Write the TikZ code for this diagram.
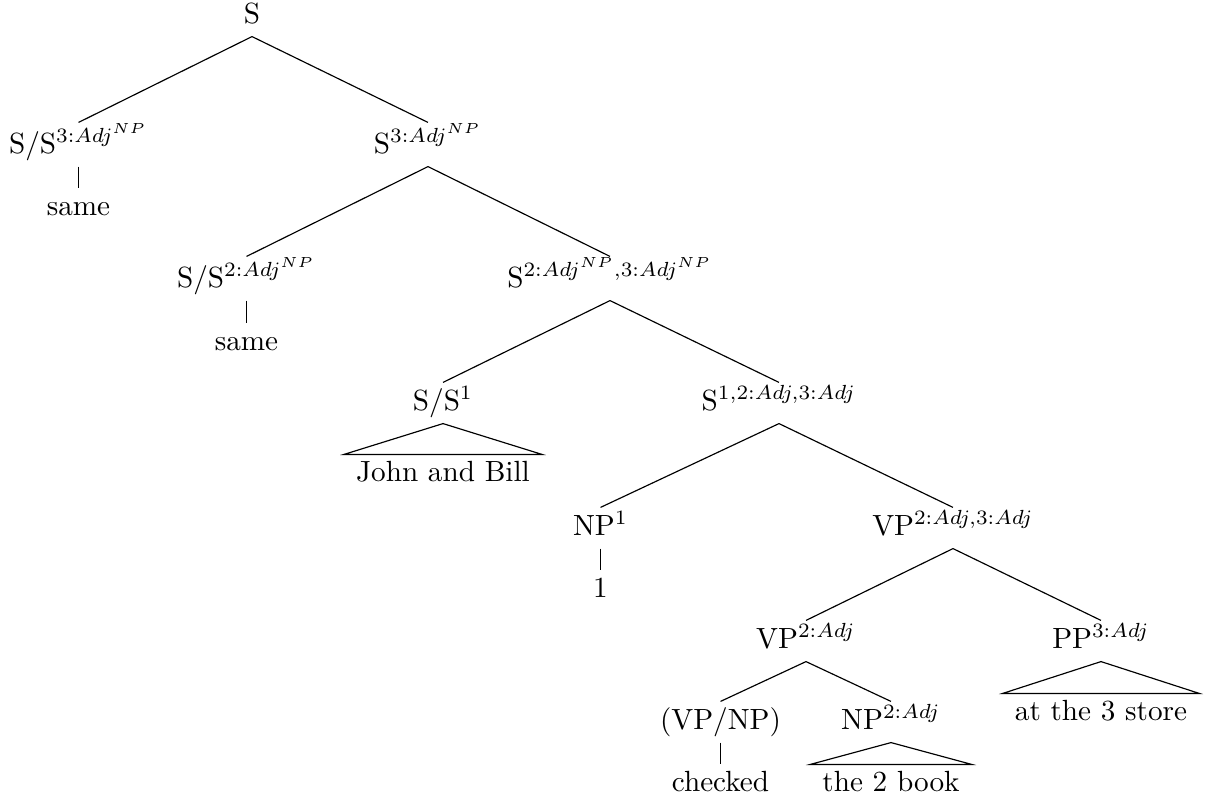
\documentclass[tikz,border=0pt]{standalone}
\begin{document}
\begin{tikzpicture}[x=0.3425pt,y=-0.3425pt,
  inode/.style={anchor=base,inner sep=0pt,text height=9.25pt,text depth=4.45pt},
  inodeh/.style={inode,text height=10.27pt},
  leaf/.style={anchor=base,inner ysep=0pt,inner xsep=4pt,text height=8.9pt,text depth=0pt},
  branch/.style={draw,line width=0.4pt}]
\useasboundingbox (0,0) rectangle (1213,802);
% nodes
\node[inode]  (s)     at (252,23)  {S};
\node[inodeh] (ss3)   at (78.5,153)  {S/S$^{3:Adj^{NP}}$};
\node[leaf]   (same1) at (78.5,215)  {same};
\node[inodeh] (s3)    at (428,153) {S$^{3:Adj^{NP}}$};
\node[inodeh] (ss2)   at (246.5,287) {S/S$^{2:Adj^{NP}}$};
\node[leaf]   (same2) at (246.5,350) {same};
\node[inodeh] (s23)   at (610,287) {S$^{2:Adj^{NP},3:Adj^{NP}}$};
\node[inode]  (ss1)   at (443,410) {S/S$^{1}$};
\node[leaf]   (jb)    at (443,481) {John and Bill};
\node[inode]  (s123)  at (779,410) {S$^{1,2:Adj,3:Adj}$};
\node[inode]  (np1)   at (600.5,535) {NP$^{1}$};
\node[leaf]   (one)   at (600.5,597) {1};
\node[inode]  (vp23)  at (953,535) {VP$^{2:Adj,3:Adj}$};
\node[inode]  (vp2)   at (806,648) {VP$^{2:Adj}$};
\node[inode]  (pp3)   at (1101,648) {PP$^{3:Adj}$};
\node[leaf]   (store) at (1101,720) {at the 3 store};
\node[inode]  (vpnp)  at (720.5,729) {(VP/NP)};
\node[leaf]   (chk)   at (720.5,791) {checked};
\node[inode]  (np2)   at (891,729) {NP$^{2:Adj}$};
\node[leaf]   (book)  at (891,791) {the 2 book};
% edges
\draw[branch] (s.south) -- (ss3.north);
\draw[branch] (s.south) -- (s3.north);
\draw[branch] (ss3.south) -- (same1.north);
\draw[branch] (s3.south) -- (ss2.north);
\draw[branch] (s3.south) -- (s23.north);
\draw[branch] (ss2.south) -- (same2.north);
\draw[branch] (s23.south) -- (ss1.north);
\draw[branch] (s23.south) -- (s123.north);
\draw[branch] (ss1.south) -- (jb.north west) -- (jb.north east) -- cycle;
\draw[branch] (s123.south) -- (np1.north);
\draw[branch] (s123.south) -- (vp23.north);
\draw[branch] (np1.south) -- (one.north);
\draw[branch] (vp23.south) -- (vp2.north);
\draw[branch] (vp23.south) -- (pp3.north);
\draw[branch] (pp3.south) -- (store.north west) -- (store.north east) -- cycle;
\draw[branch] (vp2.south) -- (vpnp.north);
\draw[branch] (vp2.south) -- (np2.north);
\draw[branch] (vpnp.south) -- (chk.north);
\draw[branch] (np2.south) -- (book.north west) -- (book.north east) -- cycle;
\end{tikzpicture}
\end{document}
